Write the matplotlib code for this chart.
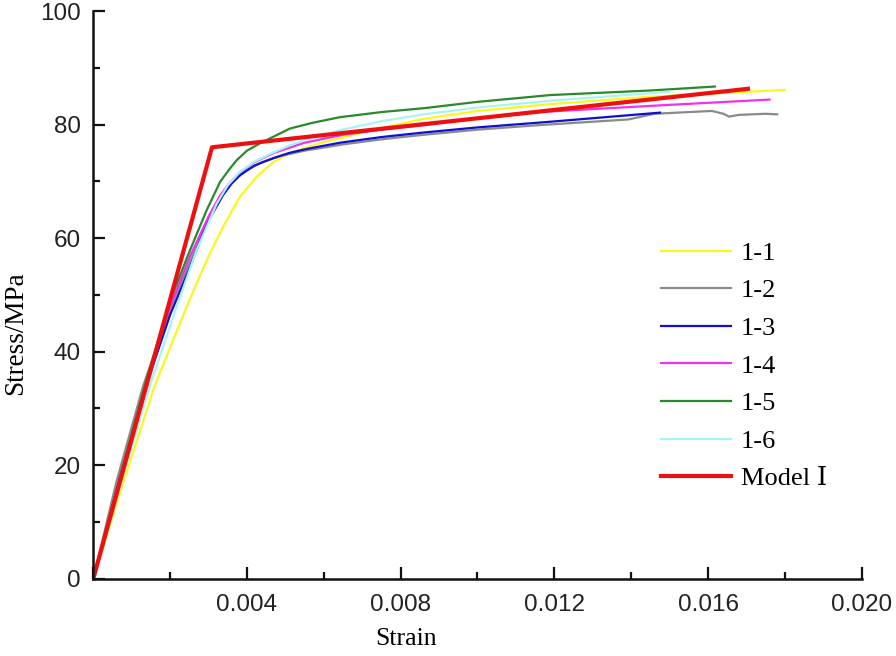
import numpy as np
import matplotlib.pyplot as plt
from matplotlib import ticker

# specimen curves (strain, stress in MPa)
strain_11 = [0, 0.00083, 0.0016, 0.00243, 0.00295, 0.00338, 0.00382, 0.00425, 0.00469,
             0.00512, 0.00555, 0.0060, 0.00642, 0.0075, 0.0086, 0.0100, 0.0119, 0.0145,
             0.0165, 0.0180]
stress_11 = [0, 18.0, 34.0, 47.9, 56.1, 62.0, 67.3, 70.8, 73.4,
             75.0, 76.0, 76.9, 77.6, 79.4, 81.0, 82.4, 83.6, 84.9,
             85.6, 86.1]

strain_12 = [0, 0.0006, 0.0013, 0.0020, 0.0025, 0.0030, 0.0033, 0.0036, 0.0040, 0.0044,
             0.0049, 0.0055, 0.0065, 0.0075, 0.0086, 0.0100, 0.0116, 0.01393, 0.0146,
             0.0152, 0.0161, 0.0164, 0.01655, 0.0168, 0.0175, 0.0178]
stress_12 = [0, 17.0, 34.0, 47.5, 55.5, 63.3, 67.2, 69.8, 72.0, 73.4,
             74.5, 75.4, 76.5, 77.4, 78.2, 79.1, 79.9, 80.9, 81.9,
             82.1, 82.4, 81.9, 81.4, 81.7, 81.9, 81.8]

strain_13 = [0, 0.0007, 0.0014, 0.0020, 0.00252, 0.00295, 0.00338, 0.0036, 0.00382, 0.0042,
             0.00469, 0.0051, 0.00555, 0.00642, 0.0075, 0.0086, 0.0100, 0.0119, 0.01475]
stress_13 = [0, 18.0, 34.5, 46.5, 54.9, 62.5, 67.6, 69.6, 71.1, 72.8,
             74.1, 75.0, 75.7, 76.8, 77.8, 78.6, 79.5, 80.5, 82.1]

strain_14 = [0, 0.0007, 0.0014, 0.0020, 0.0025, 0.0030, 0.0033, 0.0035, 0.0038, 0.0042,
             0.0047, 0.0055, 0.0065, 0.0075, 0.0086, 0.0100, 0.0116, 0.0148, 0.0176]
stress_14 = [0, 18.0, 35.0, 48.0, 56.5, 63.8, 67.5, 69.3, 71.5, 73.4,
             75.0, 76.8, 78.2, 79.1, 79.9, 81.1, 82.2, 83.4, 84.4]

strain_15 = [0, 0.0007, 0.0014, 0.0020, 0.00252, 0.00295, 0.0033, 0.00355, 0.00373, 0.0040,
             0.00434, 0.0047, 0.00512, 0.0057, 0.00642, 0.0075, 0.00863, 0.0100, 0.0119,
             0.0145, 0.01618]
stress_15 = [0, 18.0, 35.5, 49.0, 57.9, 64.9, 69.9, 72.2, 73.7, 75.4,
             76.7, 77.9, 79.3, 80.3, 81.3, 82.2, 82.9, 84.0, 85.2,
             86.0, 86.7]

strain_16 = [0, 0.0008, 0.0015, 0.00217, 0.00269, 0.00321, 0.0035, 0.00382, 0.0042, 0.00469,
             0.0051, 0.00555, 0.00642, 0.0075, 0.0086, 0.0100, 0.0119, 0.0135, 0.0150]
stress_16 = [0, 18.5, 34.5, 47.9, 57.9, 66.0, 69.3, 71.7, 73.5, 75.1,
             76.3, 77.4, 79.0, 80.6, 81.8, 83.0, 84.2, 85.0, 85.8]

strain_model = [0, 0.00309, 0.01704]
stress_model = [0, 76.0, 86.3]

labels = ['1-1', '1-2', '1-3', '1-4', '1-5', '1-6', 'Model Ⅰ']
colors = ['#f8f820', '#8a8a8a', '#1010d0', '#f030f0', '#2a8a2a', '#a8f4f4', '#ee1010']

fig = plt.figure(figsize=(8.96, 6.56), dpi=100)
ax = fig.add_axes([0.1041, 0.1178, 0.8576, 0.8654])

curves = [(strain_11, stress_11), (strain_12, stress_12), (strain_13, stress_13),
          (strain_14, stress_14), (strain_15, stress_15), (strain_16, stress_16)]
for (x, y), lab, c in zip(curves, labels[:6], colors[:6]):
    ax.plot(x, y, color=c, lw=1.6, label=lab)
ax.plot(strain_model, stress_model, color=colors[6], lw=3, label=labels[6])

ax.set_xlim(0, 0.020)
ax.set_ylim(0, 100)
for s in ['top', 'right']:
    ax.spines[s].set_visible(False)
for s in ['left', 'bottom']:
    ax.spines[s].set_linewidth(1.8)
    ax.spines[s].set_color('#111111')

ax.xaxis.set_major_locator(ticker.MultipleLocator(0.004))
ax.xaxis.set_minor_locator(ticker.MultipleLocator(0.002))
ax.yaxis.set_major_locator(ticker.MultipleLocator(20))
ax.yaxis.set_minor_locator(ticker.MultipleLocator(10))
ax.xaxis.set_major_formatter(ticker.FuncFormatter(lambda v, p: '' if v == 0 else '{:.3f}'.format(v)))
ax.yaxis.set_major_formatter(ticker.FuncFormatter(lambda v, p: '{:.0f}'.format(v)))
ax.tick_params(which='both', direction='in', width=1.6, color='#111111')
ax.tick_params(which='major', length=8.5)
ax.tick_params(which='minor', length=5)
ax.tick_params(axis='y', pad=9)
ax.tick_params(axis='x', pad=11)
for t in ax.get_xticklabels() + ax.get_yticklabels():
    t.set_fontfamily('Liberation Sans')
    t.set_fontsize(17.5)
    t.set_color('#222222')

ax.set_xlabel('Strain', fontfamily='Liberation Serif', fontsize=18.5, labelpad=9)
ax.set_ylabel('Stress/MPa', fontfamily='Liberation Serif', fontsize=19.5, labelpad=9)
ax.xaxis.set_label_coords(0.407, -0.087)
ax.yaxis.set_label_coords(-0.085, 0.433)

leg = ax.legend(loc='upper left', bbox_to_anchor=(0.7375, 0.632), bbox_transform=fig.transFigure,
                frameon=False, handlelength=2.65, handletextpad=0.38, labelspacing=0.535,
                borderpad=0, borderaxespad=0,
                prop={'family': ['Liberation Serif', 'DejaVu Serif', 'Noto Sans CJK SC'], 'size': 19})

fig.savefig('out.png', dpi=100)
